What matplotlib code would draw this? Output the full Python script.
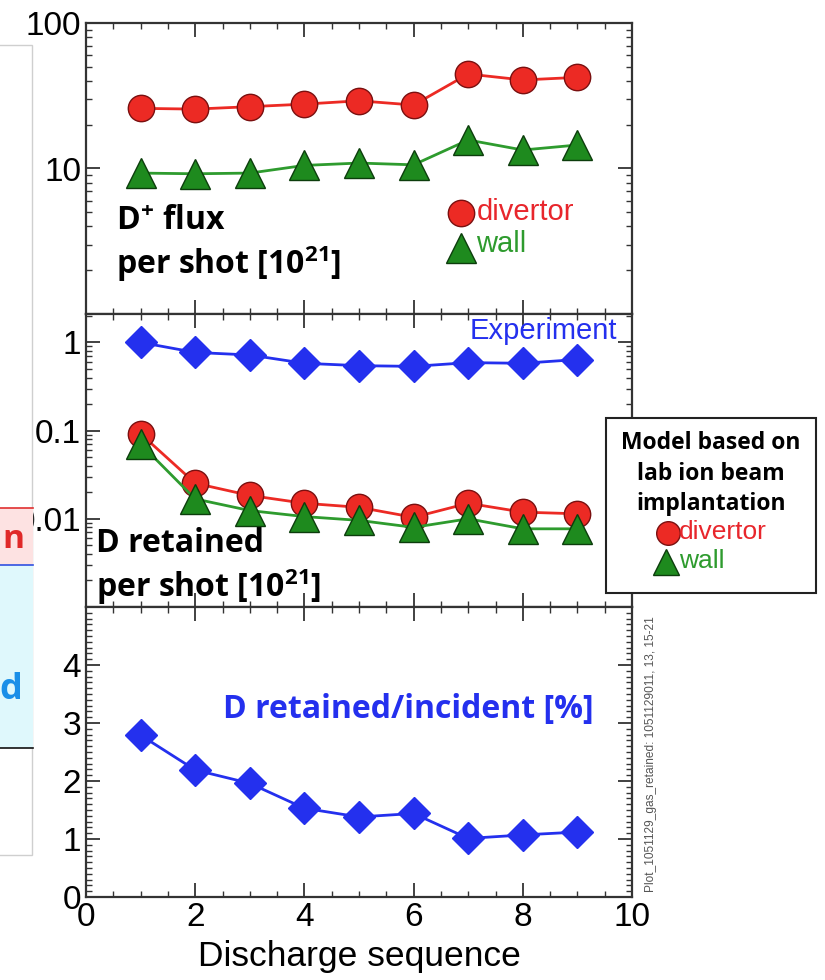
import matplotlib
matplotlib.use("Agg")
import matplotlib.pyplot as plt
from matplotlib.patches import Rectangle
from matplotlib.lines import Line2D
from matplotlib.ticker import FixedLocator, MultipleLocator, NullFormatter, FixedFormatter, LogLocator

# data
shots = [1, 2, 3, 4, 5, 6, 7, 8, 9]
flux_divertor = [25.9, 25.6, 26.6, 27.7, 29.2, 27.3, 44.6, 40.6, 42.3]
flux_wall = [9.3, 9.2, 9.3, 10.5, 10.9, 10.6, 15.7, 13.4, 14.5]
ret_experiment = [1.0, 0.77, 0.72, 0.58, 0.545, 0.535, 0.59, 0.58, 0.64]
ret_model_divertor = [0.092, 0.0253, 0.0184, 0.015, 0.0135, 0.0104, 0.015, 0.0119, 0.0114]
ret_model_wall = [0.0707, 0.0168, 0.0124, 0.0106, 0.0096, 0.0080, 0.0100, 0.0077, 0.0077]
ret_fraction = [2.79, 2.19, 1.96, 1.53, 1.38, 1.44, 1.01, 1.07, 1.12]

W, H = 825, 980
RED = "#ec2a24"
RED_TXT = "#e8262c"
GREEN = "#1e8a1e"
GREEN_TXT = "#2e9b2e"
BLUE = "#2430ee"
SPINE = "#333333"
BOLD = ["Open Sans", "DejaVu Sans"]
REG = ["Liberation Sans", "DejaVu Sans"]
NARROW = ["Liberation Sans Narrow", "Liberation Sans", "DejaVu Sans"]

# superscripts in the bold labels go through mathtext, drawn in the same bold face
plt.rcParams["mathtext.fontset"] = "custom"
plt.rcParams["mathtext.rm"] = "Open Sans:bold"
plt.rcParams["mathtext.bf"] = "Open Sans:bold"
plt.rcParams["mathtext.it"] = "Open Sans:bold"
plt.rcParams["mathtext.default"] = "bf"

fig = plt.figure(figsize=(W / 100, H / 100), dpi=100)
fig.patch.set_facecolor("white")


def fx(x):
    return x / W


def fy(y):
    return 1 - y / H


def make_axes(top, bottom):
    ax = fig.add_axes([fx(86), fy(bottom), fx(632) - fx(86), fy(top) - fy(bottom)])
    ax.set_xlim(0, 10)
    for s in ax.spines.values():
        s.set_color(SPINE)
        s.set_linewidth(1.6)
    ax.xaxis.set_major_locator(MultipleLocator(2))
    ax.xaxis.set_minor_locator(MultipleLocator(0.5))
    ax.tick_params(which="both", direction="in", top=True, right=True, colors=SPINE,
                   labelcolor="black", labelsize=24)
    ax.tick_params(which="major", length=10, width=1.3)
    ax.tick_params(which="minor", length=4, width=1.0)
    return ax


ax1 = make_axes(23, 314)
ax2 = make_axes(314, 607)
ax3 = make_axes(607, 897)
for ax in (ax1, ax2):
    ax.tick_params(axis="x", labelbottom=False)

circle_kw = dict(marker="o", ms=19, mfc=RED, mec="#7a1010", mew=1.0, color=RED, lw=2)
tri_kw = dict(marker="^", ms=21, mfc=GREEN, mec="#0c3d0c", mew=1.0, color=GREEN_TXT, lw=2)
dia_kw = dict(marker="D", ms=16, mfc=BLUE, mec=BLUE, mew=1.0, color=BLUE, lw=2)
label_kw = dict(fontsize=23, fontweight="bold", family=BOLD, va="center", ha="left")

# --- top panel: incident flux
ax1.set_yscale("log")
ax1.set_ylim(1, 100)
ax1.plot(shots, flux_divertor, zorder=3, **circle_kw)
ax1.plot(shots, flux_wall, zorder=4, **tri_kw)
ax1.yaxis.set_major_locator(FixedLocator([1, 10, 100]))
ax1.yaxis.set_major_formatter(FixedFormatter(["", "10", "100"]))
ax1.yaxis.set_minor_locator(LogLocator(base=10, subs=range(2, 10)))
ax1.yaxis.set_minor_formatter(NullFormatter())

ax1.text(0.055, 0.318, r"D$^{+}$ flux", transform=ax1.transAxes, **label_kw)
ax1.text(0.055, 0.172, r"per shot [10$^{21}$]", transform=ax1.transAxes, **label_kw)
ax1.plot([0.687], [0.347], transform=ax1.transAxes, clip_on=False, ls="none",
         **{k: v for k, v in circle_kw.items() if k not in ("color", "lw")})
ax1.plot([0.687], [0.228], transform=ax1.transAxes, clip_on=False, ls="none",
         **{k: v for k, v in tri_kw.items() if k not in ("color", "lw")})
ax1.text(0.715, 0.352, "divertor", transform=ax1.transAxes, fontsize=21,
         color=RED_TXT, family=NARROW, va="center", ha="left")
ax1.text(0.715, 0.24, "wall", transform=ax1.transAxes, fontsize=21,
         color=GREEN_TXT, family=NARROW, va="center", ha="left")

# --- middle panel: retained per shot
ax2.set_yscale("log")
ax2.set_ylim(0.001, 2.1)
ax2.plot(shots, ret_experiment, zorder=3, **dia_kw)
ax2.plot(shots, ret_model_divertor, zorder=3, **circle_kw)
ax2.plot(shots, ret_model_wall, zorder=4, **tri_kw)
ax2.yaxis.set_major_locator(FixedLocator([0.001, 0.01, 0.1, 1]))
ax2.yaxis.set_major_formatter(FixedFormatter(["", "0.01", "0.1", "1"]))
ax2.yaxis.set_minor_locator(LogLocator(base=10, subs=range(2, 10)))
ax2.yaxis.set_minor_formatter(NullFormatter())

ax2.text(0.9725, 0.942, "Experiment", transform=ax2.transAxes, fontsize=21,
         color=BLUE, family=NARROW, va="center", ha="right")
ax2.text(0.018, 0.218, "D retained", transform=ax2.transAxes, **label_kw)
ax2.text(0.018, 0.07, r"per shot [10$^{21}$]", transform=ax2.transAxes, **label_kw)

# --- bottom panel: retained / incident
ax3.set_ylim(0, 5)
ax3.plot(shots, ret_fraction, zorder=3, **dia_kw)
ax3.yaxis.set_major_locator(FixedLocator([0, 1, 2, 3, 4, 5]))
ax3.yaxis.set_major_formatter(FixedFormatter(["0", "1", "2", "3", "4", ""]))
ax3.yaxis.set_minor_locator(MultipleLocator(0.1))
ax3.set_xticks([0, 2, 4, 6, 8, 10])
ax3.set_xlabel("Discharge sequence", fontsize=25.5, family=REG, labelpad=5)
ax3.text(0.93, 0.645, "D retained/incident [%]", transform=ax3.transAxes,
         color=BLUE, **{**label_kw, "ha": "right"})
for ax in (ax1, ax2, ax3):
    for lab in ax.get_yticklabels() + ax.get_xticklabels():
        lab.set_family(REG)

fig.text(fx(651), fy(754), "Plot_1051129_gas_retained: 1051129011, 13, 15-21",
         rotation=90, fontsize=8.6, color="#555555", family=NARROW, va="center", ha="center")

# --- model legend box (outside the axes, on the right)
box = Rectangle((fx(606), fy(593)), fx(816) - fx(606), fy(418) - fy(593),
                transform=fig.transFigure, facecolor="white", edgecolor="#222222",
                linewidth=1.5, zorder=10)
fig.add_artist(box)
for txt, y in [("Model based on", 443), ("lab ion beam", 474), ("implantation", 504)]:
    fig.text(fx(711), fy(y), txt, fontsize=16.5, fontweight="bold", family=BOLD,
             ha="center", va="center", zorder=11)
fig.add_artist(Line2D([fx(668)], [fy(533)], transform=fig.transFigure, ls="none", zorder=11,
                      marker="o", ms=17, mfc=RED, mec="#7a1010", mew=1.0))
fig.add_artist(Line2D([fx(666)], [fy(562)], transform=fig.transFigure, ls="none", zorder=11,
                      marker="^", ms=19, mfc=GREEN, mec="#0c3d0c", mew=1.0))
fig.text(fx(679), fy(532), "divertor", fontsize=19, color=RED_TXT, family=NARROW,
         ha="left", va="center", zorder=11)
fig.text(fx(679), fy(561), "wall", fontsize=19, color=GREEN_TXT, family=NARROW,
         ha="left", va="center", zorder=11)

# --- fragments of the neighbouring slide box at the left edge
fig.add_artist(Rectangle((fx(-10), fy(855)), fx(42), fy(45) - fy(855), transform=fig.transFigure,
                         facecolor="none", edgecolor="#cfcfcf", linewidth=1.0, zorder=5))
fig.add_artist(Rectangle((fx(-10), fy(565)), fx(43), fy(508) - fy(565), transform=fig.transFigure,
                         facecolor="#fde2e2", edgecolor="none", zorder=6))
fig.add_artist(Line2D([fx(0), fx(33)], [fy(508), fy(508)], transform=fig.transFigure,
                      color="#e03030", lw=1.2, zorder=7))
fig.add_artist(Rectangle((fx(-10), fy(748)), fx(43), fy(565) - fy(748), transform=fig.transFigure,
                         facecolor="#dff8fc", edgecolor="none", zorder=6))
fig.add_artist(Line2D([fx(0), fx(33)], [fy(565), fy(565)], transform=fig.transFigure,
                      color="#3050e0", lw=1.2, zorder=7))
fig.add_artist(Line2D([fx(0), fx(33)], [fy(748), fy(748)], transform=fig.transFigure,
                      color="#111111", lw=1.2, zorder=7))
fig.text(fx(24), fy(540), "n", fontsize=24, fontweight="bold", color="#e02828", family=BOLD,
         ha="right", va="center", zorder=8)
fig.text(fx(22), fy(690), "d", fontsize=26, fontweight="bold", color="#1a8fe8", family=BOLD,
         ha="right", va="center", zorder=8)

fig.savefig("out.png", dpi=100, facecolor="white")
